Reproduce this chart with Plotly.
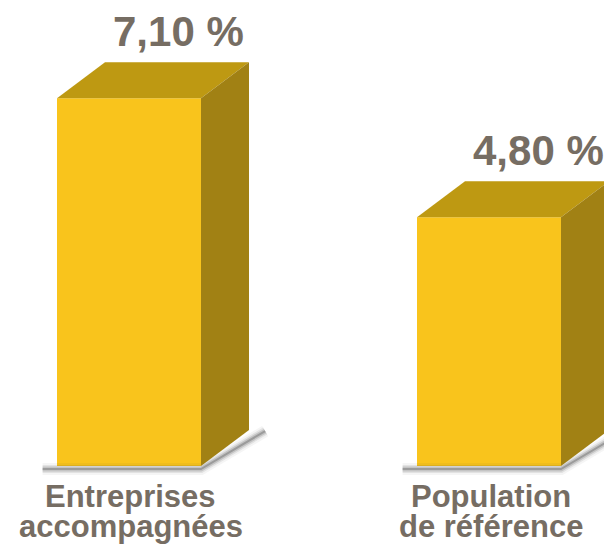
import plotly.graph_objects as go

categories = ["Entreprises\naccompagnées", "Population\nde référence"]
values = [7.10, 4.80]
value_labels = ["7,10 %", "4,80 %"]

FRONT = "#F9C41C"
TOP = "#BE9912"
SIDE = "#A18114"
TEXT = "#766D63"

FW, FH = 604, 544
PX_X = 360.0      # pixels per category step
PX_Y = 51.8       # pixels per value unit
X0 = 129          # pixel of category 0 centre
Y0 = 466          # pixel of value 0

W = 0.4           # bar width
DX = 48 / PX_X    # depth offset x
DY = 36 / PX_Y    # depth offset y

pos = list(range(len(values)))
fig = go.Figure()

# floor shadows
for i in pos:
    xs = [i - W / 2 - 0.04, i + W / 2, i + W / 2 + DX + 0.045]
    ys = [-0.06, -0.06, DY - 0.02]
    for w, a in [(12, 0.05), (8, 0.10), (5, 0.18), (2, 0.30)]:
        fig.add_trace(go.Scatter(x=xs, y=ys, mode="lines",
                                 line=dict(color=f"rgba(60,60,60,{a})", width=w),
                                 hoverinfo="skip", showlegend=False))

# front faces
fig.add_trace(go.Bar(x=pos, y=values, width=W, marker=dict(color=FRONT, line=dict(width=0)),
                     hoverinfo="skip", showlegend=False))

# top and side faces
for i, v in zip(pos, values):
    l, r = i - W / 2, i + W / 2
    fig.add_trace(go.Scatter(x=[l, l + DX, r + DX, r, l], y=[v, v + DY, v + DY, v, v],
                             mode="lines", fill="toself", fillcolor=TOP,
                             line=dict(width=0, color=TOP), hoverinfo="skip", showlegend=False))
    fig.add_trace(go.Scatter(x=[r, r, r + DX, r + DX, r], y=[0, v, v + DY, DY, 0],
                             mode="lines", fill="toself", fillcolor=SIDE,
                             line=dict(width=0, color=SIDE), hoverinfo="skip", showlegend=False))

# value labels
for i, v, t in zip(pos, values, value_labels):
    fig.add_annotation(x=i + DX, y=v + DY, text=t, showarrow=False,
                       yanchor="middle", yshift=31, xanchor="center", xshift=1,
                       font=dict(family="Liberation Sans", size=42, color=TEXT, weight="bold"))

# category labels (two lines each)
line_y = [1 - 496 / FH, 1 - 526 / FH]
for i, c in zip(pos, categories):
    for k, ln in enumerate(c.split("\n")):
        fig.add_annotation(x=i + 0.005, xref="x", y=line_y[k], yref="paper",
                           text=ln, showarrow=False, xanchor="center", yanchor="middle",
                           font=dict(family="Liberation Sans", size=31, color=TEXT, weight="bold"))

fig.update_layout(
    width=FW, height=FH,
    margin=dict(l=0, r=0, t=0, b=0),
    paper_bgcolor="white", plot_bgcolor="white",
    xaxis=dict(range=[-X0 / PX_X, (FW - X0) / PX_X], visible=False, fixedrange=True),
    yaxis=dict(range=[-(FH - Y0) / PX_Y, Y0 / PX_Y], visible=False, fixedrange=True),
    showlegend=False,
)

fig.write_html("out.html", config={"displayModeBar": False},
               post_script="document.body.style.margin='0';document.body.style.overflow='hidden';")
